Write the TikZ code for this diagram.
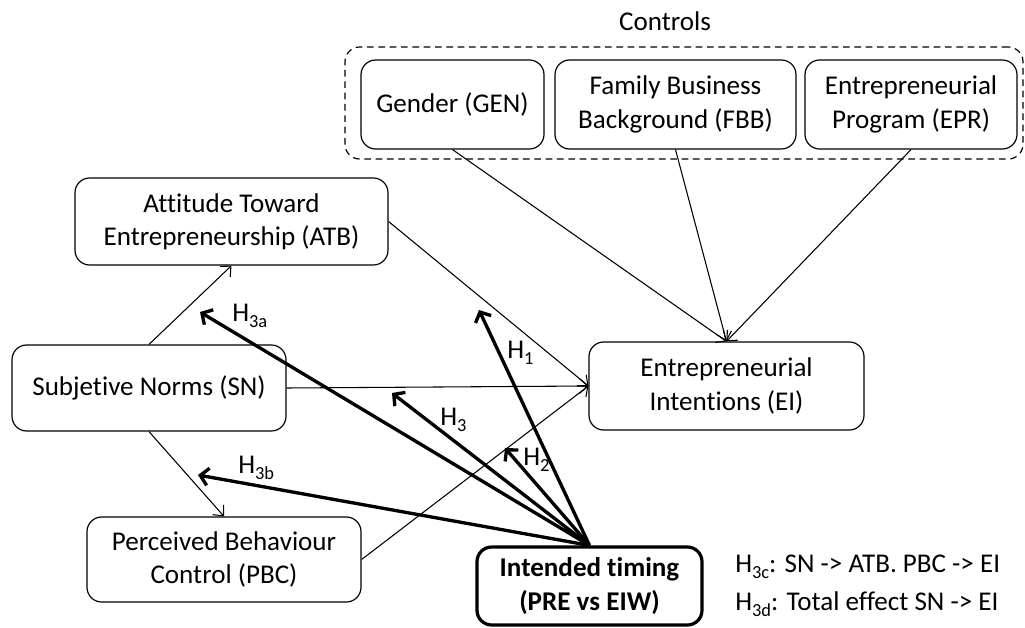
\documentclass[tikz,border=0pt]{standalone}
\usepackage{fontspec}
\setmainfont{Carlito}[Ligatures={NoCommon}]
\usetikzlibrary{arrows.meta}
\newcommand\hsub[1]{\raisebox{-4.5pt}{\fontsize{13.8}{14}\selectfont #1}}
\begin{document}
\begin{tikzpicture}[x=0.75pt,y=-0.75pt,
  txt/.style={font=\fontsize{20.3}{25}\selectfont},
  bx/.style 2 args={draw, rounded corners=11pt, line width=0.9pt, align=center, txt,
    minimum width=#1*0.75pt, minimum height=#2*0.75pt, inner sep=0pt},
  thinarr/.style={line width=0.8pt, -{Straight Barb[length=6pt,width=11pt]}},
  thickarr/.style={line width=2.5pt, -{Straight Barb[length=6pt,width=13pt]}},
  lbl/.style={anchor=base west, inner sep=0pt, txt},
]
\useasboundingbox (0,0) rectangle (1025,628);

% controls group
\node[draw, dashed, dash pattern=on 5pt off 3.5pt, rounded corners=11pt, line width=0.9pt,
  minimum width=678*0.75pt, minimum height=112*0.75pt, inner sep=0pt] (ctl) at (684,103) {};
\node[txt, anchor=base, inner sep=0pt] (ctltitle) at (665,30) {Controls};
\node[bx={183}{89}] (gen) at (452.5,104.5) {Gender (GEN)};
\node[bx={241}{89}] (fbb) at (675.5,104.5) {Family Business\\Background (FBB)};
\node[bx={212}{89}] (epr) at (911,104.5) {Entrepreneurial\\Program (EPR)};

% main constructs
\node[bx={313}{87}] (atb) at (231.5,221.5) {Attitude Toward\\Entrepreneurship (ATB)};
\node[bx={274}{86}] (sn) at (149,388) {Subjetive Norms (SN)};
\node[bx={274}{85}] (pbc) at (224,559.5) {Perceived Behaviour\\Control (PBC)};
\node[bx={275}{88}] (ei) at (726.5,386) {Entrepreneurial\\Intentions (EI)};
\node[bx={225}{78}, line width=2.4pt, font=\fontsize{20.3}{25}\selectfont\bfseries] (int) at (589.5,586) {Intended timing\\(PRE vs EIW)};

% thin paths
\draw[thinarr] (sn.north) -- (atb.south);
\draw[thinarr] (sn.south) -- (pbc.north);
\draw[thinarr] (sn.east) -- (ei.west);
\draw[thinarr] (atb.east) -- (ei.west);
\draw[thinarr] (pbc.east) -- (ei.west);
\draw[thinarr] (gen.south) -- (ei.north);
\draw[thinarr] (fbb.south) -- (ei.north);
\draw[thinarr] (epr.south) -- (ei.north);

% hypotheses arrows
\coordinate (t3a) at (200,312);
\coordinate (t1) at (479,310);
\coordinate (t3) at (392,393);
\coordinate (t2) at (505,448);
\coordinate (t3b) at (198,475);
\draw[thickarr] (int.north) -- (t3a);
\draw[thickarr] (int.north) -- (t1);
\draw[thickarr] (int.north) -- (t3);
\draw[thickarr] (int.north) -- (t2);
\draw[thickarr] (int.north) -- (t3b);

\node[lbl] (l3a) at (232,321.5) {H\hsub{3a}};
\node[lbl] (l3b) at (238,473.5) {H\hsub{3b}};
\node[lbl] (l3) at (440,425.5) {H\hsub{3}};
\node[lbl] (l1) at (507,358.5) {H\hsub{1}};
\node[lbl] (l2) at (523,465.5) {H\hsub{2}};

\node[lbl] (n3c) at (735,572) {H\hsub{3c}: SN -> ATB. PBC -> EI};
\node[lbl] (n3d) at (735,610) {H\hsub{3d}: Total effect SN -> EI};
\end{tikzpicture}
\end{document}
